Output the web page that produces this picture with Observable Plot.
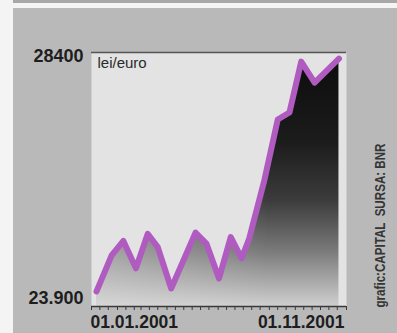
<!DOCTYPE html>
<html><head><meta charset="utf-8">
<script src="https://cdn.jsdelivr.net/npm/d3@7"></script>
<script src="https://cdn.jsdelivr.net/npm/@observablehq/plot@0.6"></script>
<style>
html,body{margin:0;padding:0;background:#fff;}
#wrap{position:relative;width:397px;height:333px;overflow:hidden;background:#f4f4f4;}
#bg{position:absolute;left:13px;top:8px;width:384px;height:325px;background:#b9b9b9;}
#strip{position:absolute;left:13px;top:0;width:384px;height:3px;background:#a8a8a8;}
#chart{position:absolute;left:0;top:0;}
</style></head><body>
<div id="wrap"><div id="strip"></div><div id="bg"></div><div id="chart"></div></div>
<script>
// Data (EUR/ROL exchange rate, 2001)
const dates = ["2001-01-07","2001-01-25","2001-02-08","2001-02-23","2001-03-09","2001-03-21","2001-04-06","2001-05-05","2001-05-18","2001-06-02","2001-06-16","2001-06-29","2001-07-08","2001-07-26","2001-08-11","2001-08-25","2001-09-08","2001-09-24","2001-10-23"];
const values = [24030, 24700, 24970, 24460, 25100, 24855, 24085, 25125, 24920, 24270, 25040, 24645, 25015, 26094, 27228, 27358, 28305, 27915, 28360];
const yTicks = [23900, 28400];
const yTickLabels = ["23.900", "28400"];
const xLabelDates = ["2001-01-01", "2001-11-01"];
const xLabelTexts = ["01.01.2001", "01.11.2001"];
const unitLabel = "lei/euro";
const sourceText = "grafic:CAPITAL  SURSA: BNR";

const parse = d3.utcParse("%Y-%m-%d");
const data = dates.map((d, i) => ({date: parse(d), value: values[i]}));
const xStart = parse(xLabelDates[0]), xEnd = parse(xLabelDates[1]);
const yMin = 23750, yMax = 28475;
const tickDates = [];
for (let m = 0; m < 10; m++) for (const d of [1, 11, 21]) tickDates.push(new Date(Date.UTC(2001, m, d)));
tickDates.push(xEnd);

const svg = Plot.plot({
  width: 397, height: 333,
  marginLeft: 91, marginRight: 51, marginTop: 52, marginBottom: 27,
  style: {background: "transparent", fontFamily: "Liberation Sans", overflow: "visible"},
  x: {type: "utc", domain: [xStart, xEnd]},
  y: {domain: [yMin, yMax]},
  marks: [
    Plot.frame({fill: "#e3e3e3", stroke: "none"}),
    Plot.areaY(data, {x: "date", y1: yMin, y2: "value", fill: "url(#fillV)", curve: "linear"}),
    Plot.areaY(data, {x: "date", y1: yMin, y2: "value", fill: "url(#fillH)", curve: "linear"}),
    Plot.ruleY([yMax], {stroke: "#555", strokeWidth: 1.5}),
    Plot.ruleY([yMin], {stroke: "#3a3a3a", strokeWidth: 1.5}),
    Plot.axisX({ticks: tickDates, tickSize: 4, tickFormat: () => "", stroke: "#3a3a3a", label: null}),
    Plot.axisY({ticks: yTicks, tickFormat: d => yTickLabels[yTicks.indexOf(d)], tickSize: 0, tickPadding: 8,
      fontSize: 18, fontWeight: "bold", fontFamily: "Liberation Sans", fill: "#1e1e1e", label: null}),
    Plot.text([xLabelTexts[0]], {x: () => parse(xLabelDates[0]), text: d => d, frameAnchor: "bottom", textAnchor: "start",
      lineAnchor: "middle", dy: 16, dx: -1, fontSize: 17.5, fontWeight: "bold", fill: "#1e1e1e"}),
    Plot.text([xLabelTexts[1]], {x: () => parse(xLabelDates[1]), text: d => d, frameAnchor: "bottom", textAnchor: "end",
      lineAnchor: "middle", dy: 16, dx: -2, fontSize: 17.5, fontWeight: "bold", fill: "#1e1e1e"}),
    Plot.text([unitLabel], {text: d => d, frameAnchor: "top-left", textAnchor: "start", lineAnchor: "middle",
      dx: 6, dy: 11, fontSize: 15, fill: "#2a2a2a"}),
    Plot.lineY(data, {x: "date", y: "value", stroke: "#b05bc0", strokeWidth: 6, curve: "linear"}),
    Plot.text([sourceText], {text: d => d, frameAnchor: "right", textAnchor: "middle", lineAnchor: "middle",
      rotate: -90, dx: 34, dy: 46, fontSize: 15.5, fontWeight: "bold", fill: "#353535"})
  ]
});

// gradient definitions for the dark area fill
const ns = "http://www.w3.org/2000/svg";
const defs = document.createElementNS(ns, "defs");
defs.innerHTML = `
<linearGradient id="fillV" gradientUnits="userSpaceOnUse" x1="0" y1="55" x2="0" y2="306">
  <stop offset="0" stop-color="#0c0c0c"/>
  <stop offset="0.35" stop-color="#1c1c1c"/>
  <stop offset="0.58" stop-color="#3c3c3c"/>
  <stop offset="0.78" stop-color="#7a7a7a"/>
  <stop offset="1" stop-color="#cfcfcf"/>
</linearGradient>
<linearGradient id="fillH" gradientUnits="userSpaceOnUse" x1="91" y1="0" x2="268" y2="0">
  <stop offset="0" stop-color="#e3e3e3" stop-opacity="0.42"/>
  <stop offset="1" stop-color="#e3e3e3" stop-opacity="0"/>
</linearGradient>`;
svg.insertBefore(defs, svg.firstChild);
document.getElementById("chart").appendChild(svg);
const src = Array.from(svg.querySelectorAll("text")).find(t => t.textContent === sourceText);
if (src) { src.setAttribute("textLength", "164"); src.setAttribute("lengthAdjust", "spacingAndGlyphs"); }
</script>
</body></html>
